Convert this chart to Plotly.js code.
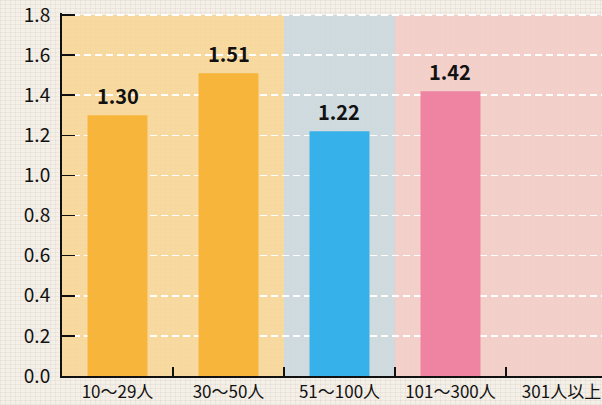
<!DOCTYPE html>
<html><head><meta charset="utf-8">
<script src="https://cdn.plot.ly/plotly-3.0.1.min.js"></script>
<style>
html,body{margin:0;padding:0;width:602px;height:405px;overflow:hidden;}
body{background-color:#F4EFE7;
background-image:
 repeating-linear-gradient(0deg, rgba(120,110,100,0.07) 0 1px, transparent 1px 4px),
 repeating-linear-gradient(90deg, rgba(120,110,100,0.07) 0 1px, transparent 1px 5px);}
#chart{width:602px;height:405px;}
</style></head>
<body><div id="chart"></div>
<script>
const categories = ["10～29人", "30～50人", "51～100人", "101～300人", "301人以上"];
const values = [1.30, 1.51, 1.22, 1.42, null];
const valueLabels = ["1.30", "1.51", "1.22", "1.42", ""];
const barColors = ["#F7B53B", "#F7B53B", "#37B1E9", "#EE83A2", "#EE83A2"];
const bandGroups = [
  {from: 0, to: 1, color: "rgba(248,214,148,0.85)"},
  {from: 2, to: 2, color: "rgba(204,216,222,0.9)"},
  {from: 3, to: 4, color: "rgba(244,204,198,0.9)"}
];
const yTicks = [0, 0.2, 0.4, 0.6, 0.8, 1.0, 1.2, 1.4, 1.6, 1.8];
const yMax = 1.8;

const font = "'Noto Sans CJK JP', 'Noto Sans', sans-serif";

const shapes = bandGroups.map(b => ({
  type: "rect", xref: "x", yref: "y", layer: "below",
  x0: b.from - 0.5, x1: b.to + 0.5, y0: 0, y1: yMax,
  fillcolor: b.color, line: {width: 0}
}));

const annotations = categories.map((c, i) => values[i] == null ? null : ({
  x: c, y: values[i], xref: "x", yref: "y", text: valueLabels[i],
  showarrow: false, yanchor: "middle", yshift: 20,
  font: {family: font, size: 20, color: "#111", weight: "bold"}
})).filter(a => a);

const trace = {
  type: "bar", x: categories, y: values, width: 0.54,
  marker: {color: barColors, line: {width: 0}},
  hoverinfo: "none"
};

const layout = {
  width: 602, height: 405,
  margin: {l: 62, r: 0, t: 13, b: 29, pad: 0},
  paper_bgcolor: "rgba(0,0,0,0)", plot_bgcolor: "rgba(0,0,0,0)",
  showlegend: false,
  font: {family: font, color: "#111", size: 16},
  xaxis: {
    type: "category", range: [-0.5, 4.365],
    showline: true, linecolor: "#111", linewidth: 2,
    ticks: "inside", ticklen: 9, tickwidth: 1.5, tickcolor: "#111",
    tickson: "boundaries", showgrid: false, zeroline: false,
    tickfont: {family: font, size: 17, color: "#111"}
  },
  yaxis: {
    range: [0, 1.81], tickvals: yTicks, tickformat: ".1f",
    showline: true, linecolor: "#111", linewidth: 2,
    ticks: "inside", ticklen: 13, tickwidth: 1.5, tickcolor: "#111",
    showgrid: true, gridcolor: "#ffffff", gridwidth: 1.5, griddash: "7px,4px",
    zeroline: false, ticklabelstandoff: 6, ticklabeloverflow: "allow",
    tickfont: {family: font, size: 19, color: "#111"}
  },
  shapes: shapes,
  annotations: annotations,
  bargap: 0.46
};

Plotly.newPlot("chart", [trace], layout, {displayModeBar: false, staticPlot: true});
</script>
</body></html>
